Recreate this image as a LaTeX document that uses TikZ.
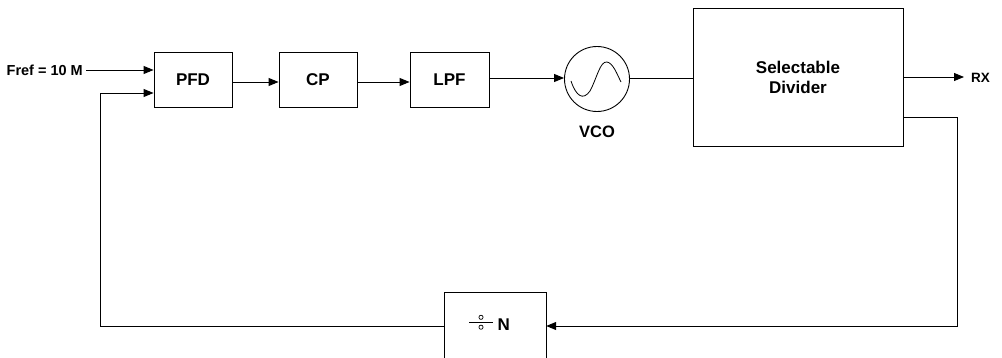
\documentclass[tikz,border=0pt]{standalone}
\usepackage{fontspec}
\setmainfont{Liberation Sans}
\usetikzlibrary{arrows.meta}
\begin{document}
\begin{tikzpicture}[x=1pt,y=-1pt,
  blk/.style={draw,line width=0.9pt,inner sep=0pt,font=\fontsize{17}{20}\selectfont\bfseries},
  lbl/.style={inner sep=0pt,font=\fontsize{14.5}{17}\selectfont\bfseries},
  wire/.style={line width=0.9pt},
  arr/.style={line width=0.9pt,-{Triangle[length=10pt,width=8pt]}}]
\useasboundingbox (0,0) rectangle (1002,358);
% blocks
\node[blk,minimum width=78pt,minimum height=55pt] (pfd) at (193,79.5) {PFD};
\node[blk,minimum width=78pt,minimum height=55pt] (cp) at (318,79.5) {CP};
\node[blk,minimum width=79pt,minimum height=55pt] (lpf) at (449.5,79.5) {LPF};
\node[draw,circle,line width=0.9pt,minimum size=65pt,inner sep=0pt] (vco) at (597,79) {};
\node[lbl,font=\fontsize{16.5}{19}\selectfont\bfseries] (vcol) at (597,132) {VCO};
\node[blk,minimum width=210pt,minimum height=138pt,align=center] (sd) at (798,77) {Selectable\\Divider};
\node[inner sep=0pt,minimum width=101pt,minimum height=66pt] (divn) at (495.5,326) {};
% sine wave inside the VCO
\draw[line width=0.8pt] (571,81) .. controls (576,96) and (583,101) .. (590,91)
  .. controls (597,78) and (600,61) .. (607,62) .. controls (613,63) and (617,74) .. (621,82);
% divide-by-N box (bottom cut by the page)
\draw[wire] (divn.south west) ++(0,10) -- (divn.north west) -- (divn.north east) -- ++(0,76);
\draw[line width=0.9pt] (469,322) -- (493,322);
\draw[line width=0.7pt] (481,317.3) circle (2.1);
\draw[line width=0.7pt] (481,327.2) circle (2.1);
\node[anchor=west,inner sep=0pt,font=\fontsize{17}{20}\selectfont\bfseries] (nl) at (497.5,325) {N};
% input and labels
\node[lbl,anchor=east] (fref) at (83,70) {Fref = 10 M};
\node[lbl,anchor=west,font=\fontsize{13.5}{16}\selectfont\bfseries] (rx) at (971,78) {RX};
\coordinate (frefstart) at (86,70);
\coordinate (rxend) at (964,77);
% forward path
\draw[arr] (frefstart) -- (pfd.west |- frefstart);
\draw[arr] (pfd.east |- 0,82) -- (cp.west |- 0,82);
\draw[arr] (cp.east |- 0,82) -- (lpf.west |- 0,82);
\draw[arr] (lpf.east |- 0,78) -- (vco.west |- 0,78);
\draw[wire] (vco.east |- 0,78) -- (sd.west |- 0,78);
\draw[arr] (sd.east |- rxend) -- (rxend);
% feedback path
\coordinate (fbr) at (957,117);
\coordinate (fbl) at (100,326);
\draw[arr] (sd.east |- fbr) -- (fbr) -- (fbr |- divn) -- (divn.east);
\draw[arr] (divn.west) -- (fbl) -- (fbl |- 0,93) -- (pfd.west |- 0,93);
\end{tikzpicture}
\end{document}
